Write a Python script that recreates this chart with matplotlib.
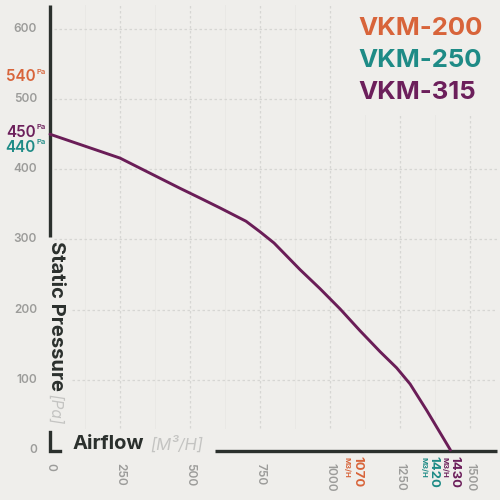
"""VKM fan curve — static pressure vs airflow, drawn with hand-placed axes."""
import matplotlib
matplotlib.use("Agg")
import matplotlib.pyplot as plt
from matplotlib.transforms import offset_copy

plt.rcParams["font.family"] = ["Inter", "DejaVu Sans"]

# --- data -------------------------------------------------------------------
airflow = [0, 250, 464, 536, 607, 700, 750, 800, 893, 964, 1036, 1107, 1179,
           1238, 1286, 1346, 1430]
pressure = [450, 416, 373, 359, 345, 326, 311, 295, 257, 230, 201, 170, 140,
            117, 94, 56, 0]

x_ticks = [0, 250, 500, 750, 1000, 1250, 1500]
y_ticks = [0, 100, 200, 300, 400, 500, 600]

models = ["VKM-200", "VKM-250", "VKM-315"]
max_pressure = [540, 440, 450]
max_airflow = [1070, 1420, 1430]

BG = "#EFEEEB"
INK = "#2B302D"
GRAY = "#9C9C9A"
LIGHT = "#C4C4C2"
GRID = "#D6D6D3"
COLORS = ["#D8643A", "#1E8B86", "#6C1F5B"]
CURVE = "#6A1D57"

fig = plt.figure(figsize=(5, 5), dpi=100)
fig.patch.set_facecolor(BG)
ax = fig.add_axes([0, 0, 1, 1])
ax.set_facecolor(BG)
ax.axis("off")
# 0 at px 50 / 0.28 px per m3/h ; 0 Pa at px 450 from top / 0.7017 px per Pa
ax.set_xlim(-178.6, 1607.1)
ax.set_ylim(-71.3, 641.3)


def shifted(dx, dy):
    return offset_copy(ax.transData, fig=fig, x=dx, y=dy, units="points")


# grid
for y in y_ticks[1:]:
    x0 = 80 if y <= 200 else 15
    x1 = 1000 if y >= 500 else 1596
    ax.plot([x0, x1], [y, y], color=GRID, lw=0.9, ls=(0, (2, 2)), zorder=1)
for x in x_ticks[1:]:
    top = 477 if x >= 1250 else 634
    ax.plot([x, x], [31, top], color=GRID, lw=0.9, ls=(0, (2, 2)), zorder=1)
for x in [125, 375, 625, 875, 1125, 1375]:
    top = 477 if x >= 1125 else 634
    ax.plot([x, x], [31, top], color="#E9E8E5", lw=0.7, zorder=0.5)

# axes
ax.plot([0, 0], [303, 634], color=INK, lw=2.4, solid_capstyle="butt", zorder=3)
ax.plot([0, 0, 36], [26, -1, -1], color=INK, lw=2.4, solid_joinstyle="miter",
        zorder=3)
ax.plot([589, 1596], [-1, -1], color=INK, lw=2.4, solid_capstyle="butt", zorder=3)

# axis titles
ax.text(20, 298, "Static Pressure", rotation=-90, ha="center", va="top",
        fontsize=14.5, fontweight="bold", color=INK)
ax.text(20, 58, "[Pa]", rotation=-90, ha="center", va="center",
        fontsize=11, fontstyle="italic", color=LIGHT)
ax.text(80, 8, "Airflow", ha="left", va="center",
        fontsize=14.5, fontweight="bold", color=INK)
ax.text(357, 8, "[M³/H]", ha="left", va="center",
        fontsize=12, fontstyle="italic", color=LIGHT)

# tick labels
for y in y_ticks:
    ax.text(-46, y, str(y), ha="right", va="center", fontsize=8.5,
            fontweight="semibold", color=GRAY)
for x in x_ticks:
    ax.text(x, -18, str(x), rotation=-90, ha="center", va="top",
            fontsize=8.5, fontweight="semibold", color=GRAY)

# curve
ax.plot(airflow, pressure, color=CURVE, lw=2.1, zorder=4,
        solid_capstyle="round", solid_joinstyle="round")

# max-pressure labels on the y axis
y_shift = [-4.0, -4.5, 1.5]
for val, col, dy in zip(max_pressure, COLORS, y_shift):
    tr = shifted(0, dy)
    ax.text(-52, val, str(val), ha="right", va="center", fontsize=11,
            fontweight="semibold", color=col, transform=tr)
    ax.text(-50, val + 3, "Pa", ha="left", va="bottom", fontsize=5.5,
            fontweight="semibold", color=col, transform=tr)

# max-airflow labels on the x axis
x_shift = [5.3, -10.5, 2.6]
for val, col, dx in zip(max_airflow, COLORS, x_shift):
    ax.text(val, -9, str(val), rotation=-90, ha="center", va="top",
            fontsize=9.5, fontweight="bold", color=col,
            transform=shifted(dx, 0))
    ax.text(val, -10, "M3/H", rotation=-90, ha="center", va="top",
            fontsize=5.5, fontweight="bold", color=col,
            transform=shifted(dx - 7, 0))

# legend
for i, (name, col) in enumerate(zip(models, COLORS)):
    ax.text(1100, 601 - i * 45.6, name, ha="left", va="center",
            fontsize=18.5, fontweight="bold", color=col)

fig.savefig("out.png", dpi=100, facecolor=fig.get_facecolor())
